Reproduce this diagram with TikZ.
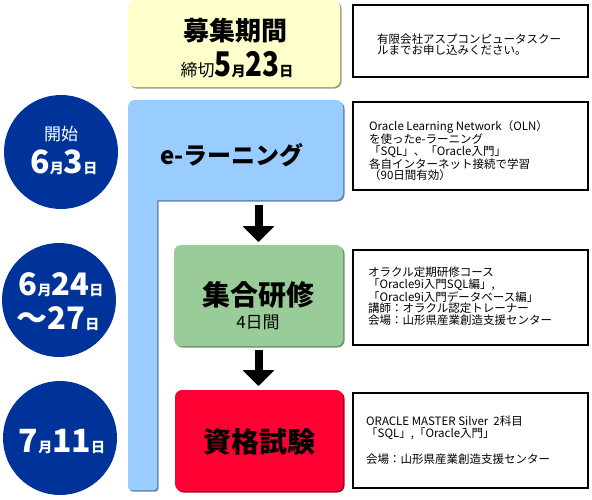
\documentclass[tikz,border=0pt]{standalone}
\usepackage{fontspec}
\setmainfont{Noto Sans CJK JP}
\usetikzlibrary{arrows.meta}
\definecolor{circblue}{RGB}{0,51,153}
\definecolor{ylw}{RGB}{255,255,204}
\definecolor{ylwsh}{RGB}{160,160,120}
\definecolor{lblue}{RGB}{153,204,255}
\definecolor{lbluesh}{RGB}{100,135,170}
\definecolor{grn}{RGB}{153,204,153}
\definecolor{grnsh}{RGB}{105,150,105}
\definecolor{rd}{RGB}{255,0,51}
\definecolor{rdsh}{RGB}{170,0,35}
\newcommand{\bigdig}[2][32]{{\fontsize{#1}{#1}\selectfont\bfseries #2}}
\newcommand{\smallkj}[1]{{\fontsize{14}{14}\selectfont\bfseries #1}}
\newcommand{\narrowdig}[1]{\scalebox{0.82}[1]{\fontsize{34}{34}\selectfont\bfseries #1}}
\tikzset{
  stagebox/.style={rectangle, rounded corners=7pt, inner sep=0pt},
  notebox/.style={rectangle, draw=black, line width=2pt, inner sep=0pt, fill=white},
  notetext/.style={anchor=west, align=left, inner sep=0pt, font=\fontsize{11.5}{11.6}\selectfont},
  datecirc/.style={circle, fill=circblue, inner sep=0pt, minimum size=114pt},
  datetext/.style={text=white, inner sep=0pt},
  bigarrow/.style={line width=8pt, -{Triangle[width=32pt,length=16pt,line width=1pt,round]}},
}
\begin{document}
\begin{tikzpicture}[x=1pt,y=-1pt]
\useasboundingbox (0,0) rectangle (592,499);
% yellow box
\node[stagebox, fill=ylwsh, minimum width=212pt, minimum height=87pt] at (235.5,45) {};
\node[stagebox, fill=ylw, minimum width=212pt, minimum height=87pt] (recruit) at (234,43.5) {};
\node[inner sep=0pt, font=\fontsize{26}{26}\selectfont\bfseries] (rtitle) at (235,31) {募集期間};
\node[inner sep=0pt, anchor=base] (rdate) at (237,76) {{\fontsize{17}{17}\selectfont 締切}\narrowdig{5}\smallkj{月}\narrowdig{23}\smallkj{日}};
% blue L shape
\fill[lbluesh, rounded corners=7pt] (129.5,101.5) rectangle (344.5,201.5);
\fill[lbluesh, rounded corners=3pt] (129.5,182) rectangle (158.5,491.5);
\fill[lblue, rounded corners=7pt] (128,100) rectangle (343,200);
\fill[lblue, rounded corners=3pt] (128,180) rectangle (157,490);
\node[inner sep=0pt, font=\fontsize{24}{24}\selectfont\bfseries] (elearn) at (232,155) {e-ラーニング};
\coordinate (a1s) at (258.5,205);
% green box
\node[stagebox, fill=grnsh, minimum width=169pt, minimum height=101pt] at (260,297) {};
\node[stagebox, fill=grn, minimum width=169pt, minimum height=101pt] (train) at (258.5,295.5) {};
\node[inner sep=0pt, font=\fontsize{28}{28}\selectfont\bfseries] (ttitle) at (258.5,295) {集合研修};
\node[inner sep=0pt, font=\fontsize{17}{17}\selectfont] (tdays) at (258,322) {4日間};
% red box
\node[stagebox, fill=rdsh, minimum width=168pt, minimum height=101pt] at (260.5,442) {};
\node[stagebox, fill=rd, minimum width=168pt, minimum height=101pt] (exam) at (259,440.5) {};
\node[inner sep=0pt, font=\fontsize{28}{28}\selectfont\bfseries] (etitle) at (259,442) {資格試験};
% arrows
\draw[bigarrow, shorten >=3pt] (a1s) -- (a1s |- train.north);
\draw[bigarrow, shorten <=4pt, shorten >=4pt] (train.south) -- (train.south |- exam.north);
% note boxes
\node[notebox, minimum width=235pt, minimum height=72pt] (n1) at (470.5,41) {};
\node[notetext] (t1) at (377,44.5) {有限会社アスプコンピュータスクー\\ルまでお申し込みください。};
\node[notebox, minimum width=235pt, minimum height=88pt] (n2) at (470.5,146) {};
\node[notetext] (t2) at (369,150.5) {Oracle Learning Network（OLN）\\を使ったe-ラーニング\\「SQL」、「Oracle入門」\\各自インターネット接続で学習\\（90日間有効）};
\node[notebox, minimum width=235pt, minimum height=95pt] (n3) at (470.5,297.5) {};
\node[notetext] (t3) at (368,296) {オラクル定期研修コース\\「Oracle9i入門SQL編」,\\「Oracle9i入門データベース編」\\講師：オラクル認定トレーナー\\会場：山形県産業創造支援センター};
\node[notebox, minimum width=235pt, minimum height=95pt] (n4) at (470.5,440.5) {};
\node[notetext] (t4) at (366,440) {ORACLE MASTER Silver\ \ 2科目\\「SQL」,「Oracle入門」\\[13pt]会場：山形県産業創造支援センター};
% date circles
\node[datecirc] (c1) at (61,152) {};
\node[datetext, font=\fontsize{17}{17}\selectfont] (c1a) at (61,134) {開始};
\node[datetext, anchor=base] (c1b) at (64,173) {\bigdig{6}\smallkj{月}\bigdig{3}\smallkj{日}};
\node[datecirc] (c2) at (59,300) {};
\node[datetext, anchor=base] (c2a) at (61,295) {\bigdig[31]{6}\smallkj{月}\bigdig[31]{24}\smallkj{日}};
\node[datetext, anchor=base] (c2b) at (58,329) {\bigdig[31]{～27}\smallkj{日}};
\node[datecirc] (c3) at (60,438) {};
\node[datetext, anchor=base] (c3a) at (62,452) {\bigdig{7}\smallkj{月}\bigdig{11}\smallkj{日}};
\end{tikzpicture}
\end{document}
